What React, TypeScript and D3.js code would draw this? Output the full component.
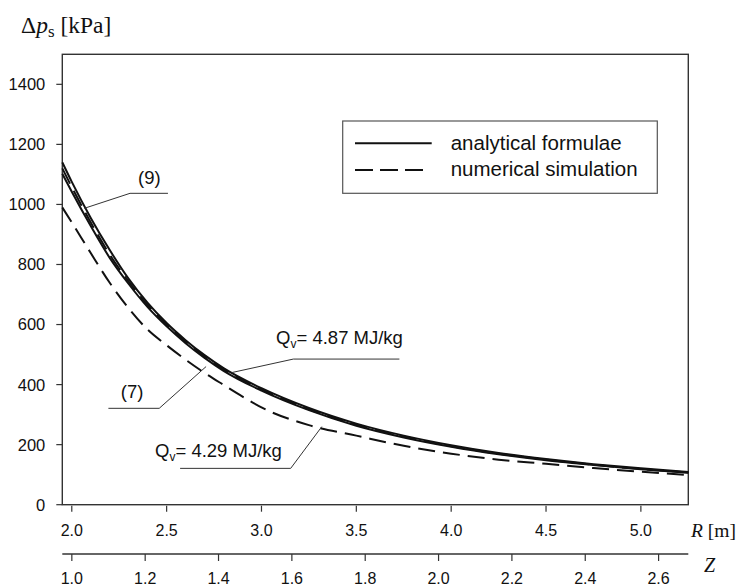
import React from "react";
import * as d3 from "d3";

// ---- data ----
const R_GRID = [1.95, 2.0, 2.1, 2.2, 2.3, 2.4, 2.5, 2.6, 2.7, 2.8, 3.0, 3.25, 3.5, 3.75, 4.0, 4.25, 4.5, 4.75, 5.0, 5.25];
const EQ9 = [1140, 1075, 955, 848, 752, 672, 605, 548, 498, 455, 388, 322, 270, 230, 198, 172, 152, 135, 121, 109];
const EQ7 = [1102, 1042, 928, 822, 735, 658, 594, 538, 489, 446, 380, 315, 263, 224, 193, 168, 148, 132, 118, 106];
const SIM487 = [1120, 1058, 940, 833, 743, 665, 600, 543, 494, 451, 384, 318, 266, 227, 195, 170, 150, 133, 119, 107];
const R_GRID_429 = [1.95, 2.0, 2.1, 2.2, 2.3, 2.4, 2.5, 2.6, 2.7, 2.8, 2.9, 3.0, 3.25, 3.5, 3.75, 4.0, 4.25, 4.5, 4.75, 5.0, 5.25];
const SIM429 = [990, 940, 838, 739, 654, 583, 531, 483, 439, 399, 360, 324, 265, 230, 196, 170, 150, 136, 122, 110, 99];

const Y_TICKS = [0, 200, 400, 600, 800, 1000, 1200, 1400];
const R_TICKS = [2.0, 2.5, 3.0, 3.5, 4.0, 4.5, 5.0];
const Z_TICKS = [1.0, 1.2, 1.4, 1.6, 1.8, 2.0, 2.2, 2.4, 2.6];
const LEGEND_LABELS = ["analytical formulae", "numerical simulation"];

const SANS = "'Liberation Sans', Arial, sans-serif";
const SERIF = "'Liberation Serif', 'Times New Roman', serif";

export default function App() {
  const W = 738, H = 587;
  const left = 62.3, right = 688.3, top = 54.3, bottom = 504.7;
  const x = d3.scaleLinear().domain([1.95, 5.25]).range([left, right]);
  const y = d3.scaleLinear().domain([0, 1500]).range([bottom, top]);
  const z = d3.scaleLinear().domain([0.974, 2.681]).range([left, right]);
  const zAxisY = 554;

  const line = (rs: number[], vs: number[]) =>
    d3.line<number>()
      .x((_, i) => x(rs[i]))
      .y((d) => y(d))
      .curve(d3.curveMonotoneX)(vs) as string;

  const series = [
    { rs: R_GRID, vs: EQ9, dash: undefined },
    { rs: R_GRID, vs: EQ7, dash: undefined },
    { rs: R_GRID, vs: SIM487, dash: "17,8" },
    { rs: R_GRID_429, vs: SIM429, dash: "17,8" },
  ];

  // annotation leaders in data coordinates: anchor -> elbow -> end
  const leaders = [
    [[2.066, 987], [2.307, 1037], [2.507, 1037]],
    [[2.708, 460], [2.461, 321], [2.193, 321]],
    [[2.843, 440], [3.168, 485], [3.727, 485]],
    [[3.318, 260], [3.154, 121], [2.571, 121]],
  ];
  const leaderPath = d3.line<number[]>().x((d) => x(d[0])).y((d) => y(d[1]));

  const lgX = 342.7, lgY = 121, lgW = 314.6, lgH = 72.3;

  return (
    <svg width={W} height={H} style={{ position: "absolute", left: 0, top: 0, background: "#fff" }}>
      <rect x={0} y={0} width={W} height={H} fill="#fff" />
      {/* title */}
      <text x={21} y={33} fontFamily={SERIF} fontSize={23.5} fill="#111">
        <tspan>Δ</tspan>
        <tspan fontStyle="italic">p</tspan>
        <tspan fontSize={17} dy={4}>s</tspan>
        <tspan dy={-4}> [kPa]</tspan>
      </text>

      {/* frame */}
      <rect x={left} y={top} width={right - left} height={bottom - top} fill="none" stroke="#333" strokeWidth={1.4} />

      {/* y axis */}
      {Y_TICKS.map((t) => (
        <g key={"y" + t}>
          <line x1={left - 6} x2={left} y1={y(t)} y2={y(t)} stroke="#333" strokeWidth={1.2} />
          <text x={left - 17} y={y(t)} dy="0.36em" textAnchor="end" fontFamily={SANS} fontSize={16.5} fill="#111">
            {t}
          </text>
        </g>
      ))}

      {/* R axis */}
      {R_TICKS.map((t) => (
        <g key={"r" + t}>
          <line x1={x(t)} x2={x(t)} y1={bottom + 1} y2={bottom + 7} stroke="#333" strokeWidth={1.2} />
          <text x={x(t)} y={536} textAnchor="middle" fontFamily={SANS} fontSize={16} fill="#111">
            {t.toFixed(1)}
          </text>
        </g>
      ))}
      <text x={691} y={537} fontFamily={SERIF} fontSize={19.5} fill="#111">
        <tspan fontStyle="italic">R</tspan>
        <tspan> [m]</tspan>
      </text>

      {/* Z axis */}
      <line x1={left} x2={right} y1={zAxisY} y2={zAxisY} stroke="#333" strokeWidth={1.3} />
      {Z_TICKS.map((t) => (
        <g key={"z" + t}>
          <line x1={z(t)} x2={z(t)} y1={zAxisY} y2={zAxisY + 7} stroke="#333" strokeWidth={1.2} />
          <text x={z(t)} y={583.5} textAnchor="middle" fontFamily={SANS} fontSize={16} fill="#111">
            {t.toFixed(1)}
          </text>
        </g>
      ))}
      <text x={704} y={572} fontFamily={SERIF} fontSize={20} fontStyle="italic" fill="#111">Z</text>

      {/* curves */}
      {series.map((s, i) => (
        <path key={"s" + i} d={line(s.rs, s.vs)} fill="none" stroke="#111" strokeWidth={2}
          strokeDasharray={s.dash} />
      ))}

      {/* leaders */}
      {leaders.map((l, i) => (
        <path key={"l" + i} d={leaderPath(l) as string} fill="none" stroke="#333" strokeWidth={1} />
      ))}
      <text x={x(2.349)} y={y(1067)} fontFamily={SANS} fontSize={18.5} fill="#111">(9)</text>
      <text x={x(2.258)} y={y(355)} fontFamily={SANS} fontSize={18.5} fill="#111">(7)</text>
      <text x={x(3.077)} y={y(535)} fontFamily={SANS} fontSize={18.5} fill="#111">
        <tspan>Q</tspan>
        <tspan fontSize={12} dy={4}>v</tspan>
        <tspan dy={-4}>= 4.87 MJ/kg</tspan>
      </text>
      <text x={x(2.439)} y={y(159)} fontFamily={SANS} fontSize={18.5} fill="#111">
        <tspan>Q</tspan>
        <tspan fontSize={12} dy={4}>v</tspan>
        <tspan dy={-4}>= 4.29 MJ/kg</tspan>
      </text>

      {/* legend */}
      <rect x={lgX} y={lgY} width={lgW} height={lgH} fill="#fff" stroke="#555" strokeWidth={1.2} />
      <line x1={355} x2={431.7} y1={143.3} y2={143.3} stroke="#111" strokeWidth={2} />
      <line x1={355} x2={424} y1={170} y2={170} stroke="#111" strokeWidth={2.2} strokeDasharray="18,7" />
      <text x={450.7} y={150} fontFamily={SANS} fontSize={20.5} fill="#111">{LEGEND_LABELS[0]}</text>
      <text x={450.7} y={176} fontFamily={SANS} fontSize={20.5} fill="#111">{LEGEND_LABELS[1]}</text>
    </svg>
  );
}
